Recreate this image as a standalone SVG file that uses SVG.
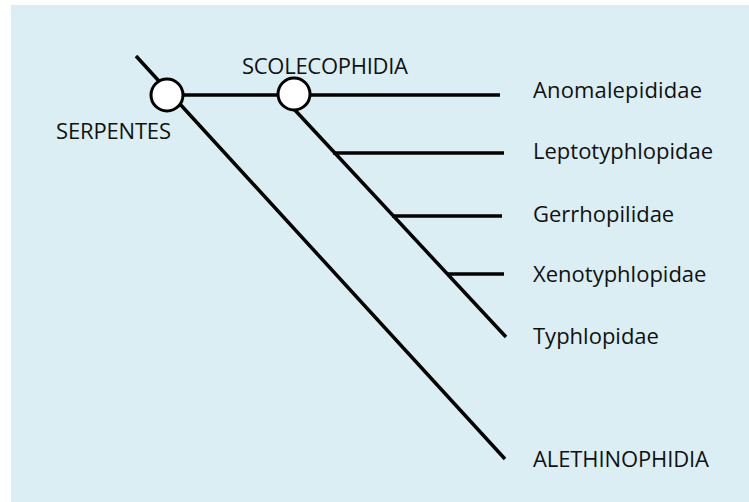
<svg xmlns="http://www.w3.org/2000/svg" width="749" height="502" viewBox="0 0 749 502">
<style>
.ln{stroke:#000;stroke-width:3.5;fill:none}
.nd{fill:#fff;stroke:#000;stroke-width:3}
.lb{font-family:"Open Sans","Liberation Sans",sans-serif;font-size:22px;fill:#111}
</style>
<rect x="0" y="0" width="749" height="502" fill="#fff"/>
<rect x="11" y="5" width="738" height="497" fill="#DAEEF3"/>
<g id="connectors">
<line class="ln" x1="136" y1="56" x2="505" y2="459"/>
<line class="ln" x1="167" y1="95" x2="500" y2="95"/>
<line class="ln" x1="293" y1="108" x2="506" y2="337"/>
<line class="ln" x1="333" y1="153" x2="504" y2="153"/>
<line class="ln" x1="392" y1="216" x2="502" y2="216"/>
<line class="ln" x1="447" y1="274" x2="504" y2="274"/>
</g>
<g id="serpentes">
<circle class="nd" cx="167" cy="95" r="16"/>
<text class="lb" x="56" y="139" textLength="115">SERPENTES</text>
</g>
<g id="scolecophidia">
<circle class="nd" cx="294" cy="94" r="16"/>
<text class="lb" x="242" y="74" textLength="166">SCOLECOPHIDIA</text>
</g>
<g id="anomalepididae"><text class="lb" x="533" y="98" textLength="169">Anomalepididae</text></g>
<g id="leptotyphlopidae"><text class="lb" x="533" y="159">Leptotyphlopidae</text></g>
<g id="gerrhopilidae"><text class="lb" x="533" y="222">Gerrhopilidae</text></g>
<g id="xenotyphlopidae"><text class="lb" x="533" y="282">Xenotyphlopidae</text></g>
<g id="typhlopidae"><text class="lb" x="533" y="344">Typhlopidae</text></g>
<g id="alethinophidia"><text class="lb" x="533" y="467" textLength="176">ALETHINOPHIDIA</text></g>
</svg>
